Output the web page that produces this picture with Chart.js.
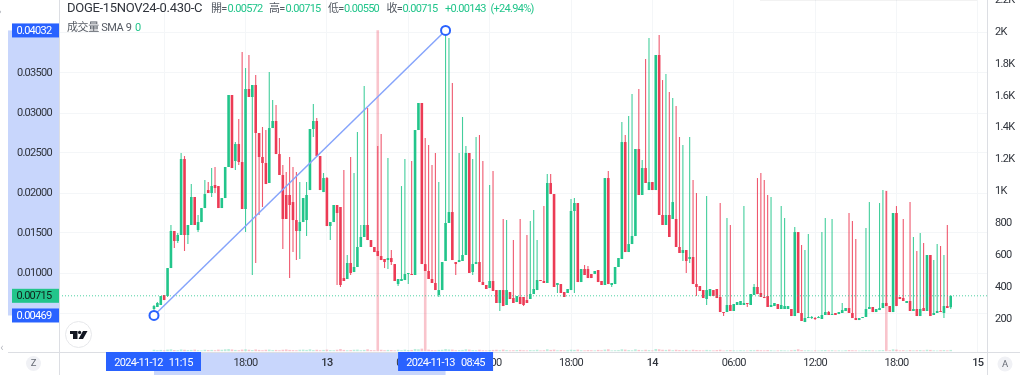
<!DOCTYPE html>
<html lang="en">
<head>
  <meta charset="UTF-8" />
  <title>DOGE-15NOV24-0.430-C</title>
  <script src="https://cdn.jsdelivr.net/npm/chart.js"></script>
  <style>
    body { margin: 0; background: #fff; overflow: hidden; }
    canvas { display: block; }
  </style>
</head>
<body>
  <canvas id="candleChart" width="1024" height="382"></canvas>

  <script>
    // 15 minute candles, first one is 2024-11-12 11:15
    const opens = [
      0.00550,0.00575,0.00600,0.00725,0.00712,0.01062,0.01525,0.01400,0.01475,0.02425,
      0.01475,0.01600,0.01950,0.01537,0.01637,0.01812,0.02037,0.02000,0.02100,0.02087,
      0.01812,0.01937,0.02325,0.03225,0.02400,0.02612,0.02387,0.01800,0.03300,0.03200,
      0.03350,0.02750,0.02450,0.02375,0.02125,0.02812,0.02900,0.02487,0.02225,0.01975,
      0.01975,0.01887,0.01662,0.01525,0.01637,0.01662,0.02037,0.02800,0.02900,0.02462,
      0.02012,0.02187,0.01587,0.01637,0.01850,0.01825,0.00937,0.00925,0.01125,0.01012,
      0.01075,0.01325,0.01450,0.01600,0.01412,0.01325,0.01275,0.01212,0.01175,0.01162,
      0.01187,0.01112,0.00862,0.00900,0.00912,0.00987,0.00987,0.00975,0.02787,0.03125,
      0.01112,0.01025,0.00925,0.00875,0.00725,0.00787,0.01150,0.01625,0.01762,0.01137,
      0.01137,0.01150,0.01225,0.02500,0.01012,0.01112,0.01137,0.00887,0.00850,0.00812,
      0.00900,0.00787,0.00625,0.00787,0.00600,0.00762,0.00687,0.00637,0.00700,0.00700,
      0.00662,0.00675,0.00737,0.00787,0.00912,0.00900,0.00875,0.02125,0.01987,0.00850,
      0.00862,0.00762,0.00750,0.00787,0.01775,0.01875,0.00887,0.01050,0.01050,0.00987,
      0.00987,0.01037,0.00900,0.00850,0.02187,0.00850,0.00862,0.01075,0.01175,0.02637,
      0.01262,0.01362,0.01462,0.02550,0.01975,0.02312,0.02037,0.02137,0.02037,0.03725,
      0.01725,0.01600,0.01725,0.01675,0.01675,0.01325,0.01250,0.01287,0.01175,0.01200,
      0.00862,0.00837,0.00787,0.00675,0.00712,0.00787,0.00800,0.00700,0.00512,0.00512,
      0.00600,0.00525,0.00600,0.00600,0.00600,0.00625,0.00600,0.00725,0.00825,0.00750,
      0.00700,0.00712,0.00575,0.00587,0.00612,0.00550,0.00550,0.00550,0.00550,0.00462,
      0.01512,0.00500,0.00387,0.00437,0.00437,0.00437,0.00437,0.00425,0.00475,0.00512,
      0.00475,0.00500,0.00487,0.00500,0.00525,0.00562,0.00500,0.00437,0.00412,0.00437,
      0.00450,0.00550,0.00575,0.00512,0.00537,0.00562,0.00625,0.00587,0.00512,0.01750,
      0.00700,0.00687,0.00625,0.00650,0.00525,0.00550,0.00462,0.00562,0.00525,0.01225,
      0.00475,0.00500,0.00525,0.00500,0.00587,0.00572
    ];
    const highs = [
      0.00600,0.00637,0.00712,0.00725,0.01062,0.01600,0.01525,0.01500,0.02500,0.02462,
      0.01600,0.02112,0.01950,0.01725,0.01812,0.02162,0.02137,0.02312,0.02325,0.02087,
      0.01937,0.02325,0.03225,0.03225,0.02637,0.02925,0.03762,0.03562,0.03725,0.03350,
      0.03475,0.02750,0.02825,0.02787,0.03512,0.03162,0.03100,0.02687,0.02350,0.02262,
      0.02450,0.02325,0.02262,0.02137,0.01937,0.02137,0.02800,0.03112,0.02937,0.02462,
      0.02250,0.02200,0.01637,0.01850,0.01850,0.01825,0.02287,0.01225,0.02450,0.02250,
      0.02762,0.01600,0.03337,0.03062,0.01412,0.01325,0.02587,0.02737,0.01175,0.02437,
      0.01287,0.01112,0.00925,0.02087,0.02425,0.01000,0.02400,0.02787,0.03125,0.03125,
      0.02687,0.02600,0.02350,0.02500,0.02137,0.01137,0.04032,0.03937,0.03375,0.01137,
      0.02500,0.02950,0.02587,0.02500,0.02425,0.02700,0.02725,0.02400,0.00850,0.02100,
      0.02275,0.00787,0.00787,0.01675,0.01662,0.00762,0.01412,0.00712,0.01675,0.00700,
      0.01475,0.01650,0.01787,0.01412,0.00912,0.01837,0.02237,0.02237,0.01987,0.00875,
      0.00862,0.00762,0.00800,0.01925,0.01937,0.01875,0.01050,0.01100,0.01087,0.00987,
      0.01025,0.01037,0.00900,0.02187,0.02275,0.00875,0.01075,0.01187,0.02887,0.02725,
      0.02962,0.03237,0.02550,0.03300,0.02412,0.03675,0.03937,0.02137,0.03725,0.03975,
      0.03412,0.03487,0.03262,0.03187,0.03087,0.02700,0.02600,0.01287,0.02700,0.02162,
      0.02000,0.00837,0.00787,0.01962,0.00800,0.00787,0.00800,0.01875,0.00512,0.01687,
      0.01600,0.00612,0.00637,0.00650,0.01837,0.00625,0.00737,0.00862,0.02187,0.02250,
      0.02162,0.01975,0.01950,0.00625,0.00612,0.01837,0.01687,0.00587,0.00550,0.01575,
      0.01512,0.01350,0.01287,0.01487,0.00462,0.00450,0.00462,0.01512,0.01687,0.00525,
      0.01675,0.00500,0.00512,0.00625,0.00562,0.01750,0.01650,0.01425,0.00437,0.00450,
      0.01562,0.01887,0.00575,0.00550,0.01875,0.02037,0.02025,0.00587,0.01750,0.01837,
      0.00700,0.01675,0.00650,0.01887,0.01450,0.01275,0.01500,0.01375,0.01225,0.01225,
      0.01162,0.01362,0.01337,0.01225,0.01600,0.00715
    ];
    const lows = [
      0.00537,0.00575,0.00600,0.00662,0.00700,0.01062,0.01312,0.01375,0.01475,0.01275,
      0.01362,0.01600,0.01600,0.01512,0.01637,0.01812,0.02000,0.01950,0.02000,0.01812,
      0.01812,0.01937,0.02325,0.02312,0.02287,0.02350,0.01800,0.01512,0.03200,0.00975,
      0.01125,0.01725,0.01825,0.02112,0.02125,0.02812,0.02487,0.02225,0.01300,0.01675,
      0.00937,0.01262,0.01162,0.01175,0.01637,0.01462,0.02037,0.02700,0.02462,0.02037,
      0.02012,0.01587,0.01412,0.01637,0.00850,0.00825,0.00900,0.00925,0.00975,0.01012,
      0.01075,0.01325,0.01450,0.01412,0.01325,0.01262,0.01212,0.01162,0.01062,0.01050,
      0.01100,0.00900,0.00837,0.00900,0.00912,0.00862,0.00975,0.00975,0.02787,0.01112,
      0.01025,0.00925,0.00875,0.00787,0.00700,0.00787,0.01150,0.01625,0.01162,0.00975,
      0.01137,0.01150,0.01225,0.01000,0.00975,0.01112,0.00887,0.00850,0.00800,0.00812,
      0.00775,0.00625,0.00525,0.00587,0.00600,0.00675,0.00625,0.00637,0.00612,0.00587,
      0.00625,0.00675,0.00737,0.00787,0.00900,0.00875,0.00875,0.01987,0.00825,0.00750,
      0.00750,0.00700,0.00750,0.00787,0.00750,0.00887,0.00887,0.00975,0.00937,0.00937,
      0.00987,0.00887,0.00850,0.00850,0.00862,0.00825,0.00862,0.01075,0.01175,0.01262,
      0.01262,0.01362,0.01462,0.01975,0.01975,0.02125,0.02037,0.02037,0.02037,0.01725,
      0.01600,0.01600,0.01450,0.01675,0.01325,0.01250,0.01150,0.01000,0.01125,0.00862,
      0.00712,0.00775,0.00687,0.00600,0.00712,0.00712,0.00687,0.00512,0.00462,0.00512,
      0.00525,0.00525,0.00600,0.00600,0.00600,0.00575,0.00600,0.00725,0.00737,0.00700,
      0.00687,0.00575,0.00575,0.00587,0.00550,0.00550,0.00550,0.00550,0.00462,0.00462,
      0.00500,0.00400,0.00387,0.00437,0.00425,0.00412,0.00437,0.00425,0.00475,0.00475,
      0.00475,0.00475,0.00487,0.00500,0.00525,0.00500,0.00437,0.00412,0.00412,0.00437,
      0.00450,0.00550,0.00512,0.00512,0.00537,0.00562,0.00587,0.00512,0.00512,0.00587,
      0.00675,0.00650,0.00625,0.00525,0.00525,0.00462,0.00462,0.00525,0.00525,0.00462,
      0.00475,0.00500,0.00512,0.00437,0.00562,0.00550
    ];
    const closes = [
      0.00587,0.00625,0.00712,0.00662,0.01062,0.01525,0.01400,0.01475,0.02425,0.01475,
      0.01600,0.01950,0.01600,0.01637,0.01812,0.01987,0.02000,0.02087,0.02062,0.01812,
      0.01937,0.02325,0.03225,0.02312,0.02612,0.02387,0.01800,0.03300,0.03200,0.03350,
      0.02750,0.02450,0.02375,0.02112,0.02812,0.02900,0.02487,0.02225,0.01675,0.01675,
      0.01850,0.01662,0.01525,0.01637,0.01937,0.01975,0.02800,0.02900,0.02462,0.02037,
      0.02187,0.01587,0.01637,0.01850,0.01750,0.00850,0.00900,0.01125,0.01000,0.01075,
      0.01325,0.01450,0.01600,0.01412,0.01325,0.01262,0.01212,0.01162,0.01137,0.01187,
      0.01137,0.00900,0.00925,0.00925,0.00987,0.01000,0.00975,0.02787,0.03125,0.01112,
      0.01025,0.00925,0.00875,0.00787,0.00787,0.01137,0.01625,0.01762,0.01162,0.01112,
      0.01162,0.01225,0.02500,0.01000,0.01112,0.01137,0.00887,0.00850,0.00800,0.00900,
      0.00775,0.00625,0.00787,0.00587,0.00787,0.00675,0.00625,0.00712,0.00612,0.00600,
      0.00625,0.00737,0.00800,0.00912,0.00900,0.00875,0.02125,0.01987,0.00825,0.00875,
      0.00750,0.00700,0.00800,0.01775,0.01875,0.00887,0.01050,0.00975,0.00937,0.00937,
      0.01025,0.00887,0.00850,0.02187,0.00862,0.00875,0.01075,0.01187,0.02637,0.01262,
      0.01362,0.01462,0.02550,0.01975,0.02312,0.02125,0.02137,0.02037,0.03725,0.01725,
      0.01600,0.01725,0.01450,0.01887,0.01325,0.01250,0.01287,0.01150,0.01200,0.00862,
      0.00825,0.00775,0.00687,0.00787,0.00800,0.00712,0.00687,0.00512,0.00500,0.00600,
      0.00525,0.00612,0.00637,0.00650,0.00625,0.00612,0.00737,0.00825,0.00737,0.00700,
      0.00687,0.00575,0.00600,0.00625,0.00550,0.00600,0.00587,0.00587,0.00462,0.01512,
      0.00500,0.00400,0.00437,0.00450,0.00450,0.00425,0.00450,0.00475,0.00512,0.00475,
      0.00487,0.00475,0.00512,0.00537,0.00562,0.00500,0.00437,0.00412,0.00437,0.00450,
      0.00550,0.00575,0.00512,0.00550,0.00562,0.00625,0.00587,0.00512,0.01750,0.00587,
      0.00675,0.00650,0.00650,0.00525,0.00550,0.00462,0.00550,0.00525,0.01225,0.00462,
      0.00500,0.00525,0.00512,0.00587,0.00562,0.00715
    ];
    const volumes = [
      9,6,8,5,10,12,7,6,11,9,7,8,10,6,5,9,7,8,6,10,
      9,12,14,11,8,6,10,12,9,7,11,8,6,9,10,7,8,6,9,11,
      8,7,6,9,10,8,12,7,9,6,8,10,7,6,9,14,8,6,7,9,
      10,6,8,12,7,6,2010,9,6,8,7,5,9,6,10,7,8,14,12,16,
      540,10,7,6,8,9,14,11,10,6,7,8,12,10,7,6,9,6,5,7,
      8,9,6,10,7,5,6,7,8,6,5,7,6,9,5,6,12,8,10,6,
      7,5,6,9,8,10,6,5,7,6,5,8,6,10,12,5,6,7,12,10,
      7,6,12,8,6,9,7,5,14,12,9,8,10,6,9,7,6,8,5,9,
      7,6,5,8,6,5,7,9,4,6,7,5,4,6,5,4,7,6,8,6,
      5,7,6,4,5,6,5,4,6,8,12,7,5,6,4,5,4,6,7,5,
      6,4,5,4,6,7,6,5,4,5,7,6,5,4,6,7,1005,6,12,10,
      5,6,4,7,5,6,7,5,9,8,5,4,6,7,5,8
    ];
    const priceTicks = [0.005, 0.01, 0.015, 0.02, 0.025, 0.03, 0.035, 0.04];
    const volumeTicks = [200, 400, 600, 800, 1000, 1200, 1400, 1600, 1800, 2000, 2200];
    const timeTickBars = [3, 27, 51, 75, 99, 123, 147, 171, 195, 219, 243];
    const timeTickLabels = ["12:00", "18:00", "13", "06:00", "12:00", "18:00", "14", "06:00", "12:00", "18:00", "15"];
    const trendBars = [0, 86];
    const trendPrices = [0.00469, 0.04032];
    const trendDates = ["2024-11-12   11:15", "2024-11-13   08:45"];
    const lastPrice = 0.00715;

    const GREEN = "#22c58b";
    const RED = "#ec3b55";
    const WICK_GREEN = "rgba(34,197,139,0.85)";
    const WICK_RED = "rgba(236,59,85,0.85)";
    const BLUE = "#2962ff";
    const BAND = "#c8d6fc";
    const AXIS_LINE = "#dcdee3";
    const GRID = "#f4f6f8";
    const TEXT = "#30343c";
    const FONT = 'Roboto, "Noto Sans CJK TC", sans-serif';

    const isUp = i => closes[i] >= opens[i];
    const bars = opens.map((_, i) => i);

    // everything TradingView puts around the plot, real text drawn on top of the chart
    const chrome = {
      id: "chrome",
      beforeDraw(chart) {
        const { ctx } = chart;
        const y = chart.scales.y, x = chart.scales.x;
        ctx.save();
        ctx.fillStyle = BAND;
        ctx.fillRect(8, y.getPixelForValue(trendPrices[1]), 51, y.getPixelForValue(trendPrices[0]) - y.getPixelForValue(trendPrices[1]));
        ctx.fillRect(x.getPixelForValue(trendBars[0]), 352, x.getPixelForValue(trendBars[1]) - x.getPixelForValue(trendBars[0]), 23);
        ctx.restore();
        // the reference text is squeezed, stays set for the tick labels too
        ctx.letterSpacing = "-0.7px";
      },
      afterDraw(chart) {
        const { ctx } = chart;
        const y = chart.scales.y, x = chart.scales.x;
        ctx.save();

        // frame lines
        ctx.fillStyle = AXIS_LINE;
        ctx.fillRect(59, 0, 1, 375);
        ctx.fillRect(987, 0, 1, 375);
        ctx.fillRect(8, 352, 1012, 1);
        ctx.fillStyle = "rgba(0,0,0,0.05)";
        ctx.fillRect(760, 0, 217, 1);

        // price labels on the left axis
        const priceBox = (value, color, textColor) => {
          const py = y.getPixelForValue(value);
          ctx.fillStyle = color;
          ctx.fillRect(12, py - 7, 47, 14);
          ctx.fillStyle = textColor;
          ctx.font = "11px " + FONT;
          ctx.textAlign = "center";
          ctx.textBaseline = "middle";
          ctx.fillText(value.toFixed(5), 34, py + 0.5);
        };
        priceBox(trendPrices[1], BLUE, "#fff");
        priceBox(lastPrice, GREEN, "#10241c");
        priceBox(trendPrices[0], BLUE, "#fff");

        // time labels of the drawing
        trendBars.forEach((bar, i) => {
          const px = x.getPixelForValue(bar);
          const left = i === 0 ? px - 48 : px - 47.5;
          ctx.fillStyle = BLUE;
          ctx.fillRect(left, 352, 95, 19);
          ctx.fillStyle = "#fff";
          ctx.font = "11px " + FONT;
          ctx.textAlign = "center";
          ctx.textBaseline = "middle";
          ctx.fillText(trendDates[i], left + 47.5, 363.5);
        });

        // legend
        ctx.textAlign = "left";
        ctx.textBaseline = "middle";
        const put = (text, px, py, color, size, spacing) => {
          ctx.fillStyle = color;
          ctx.font = size + "px " + FONT;
          ctx.letterSpacing = (spacing || 0) + "px";
          ctx.fillText(text, px, py);
        };
        put("DOGE-15NOV24-0.430-C", 67, 9, TEXT, 13, -0.3);
        put("開=", 211, 9.5, "#555a63", 11, -0.7);
        put("0.00572", 227.5, 9.5, GREEN, 11, -0.7);
        put("高=", 269, 9.5, "#555a63", 11, -0.7);
        put("0.00715", 285.5, 9.5, GREEN, 11, -0.7);
        put("低=", 328, 9.5, "#555a63", 11, -0.7);
        put("0.00550", 344, 9.5, GREEN, 11, -0.7);
        put("收=", 386.5, 9.5, "#555a63", 11, -0.7);
        put("0.00715", 402.5, 9.5, GREEN, 11, -0.7);
        put("+0.00143", 445, 9.5, GREEN, 11, -0.7);
        put("(+24.94%)", 490.5, 9.5, GREEN, 11, -0.7);
        put("成交量 SMA 9", 67, 28, "#555a63", 11, -0.4);
        put("0", 135, 28, GREEN, 11, 0);

        // logo
        ctx.beginPath();
        ctx.arc(78.5, 334.5, 13, 0, Math.PI * 2);
        ctx.fillStyle = "#fff";
        ctx.fill();
        ctx.strokeStyle = "#e6e7ea";
        ctx.lineWidth = 1;
        ctx.stroke();
        ctx.fillStyle = "#131722";
        ctx.fillRect(70, 331, 7.5, 3);
        ctx.fillRect(73, 334, 4.5, 5);
        ctx.beginPath();
        ctx.arc(79.6, 332.4, 1.6, 0, Math.PI * 2);
        ctx.fill();
        ctx.beginPath();
        ctx.moveTo(83, 331);
        ctx.lineTo(87.5, 331);
        ctx.lineTo(83, 339);
        ctx.lineTo(78.5, 339);
        ctx.closePath();
        ctx.fill();

        // little round buttons
        const roundBtn = (cx, cy, label) => {
          ctx.beginPath();
          ctx.arc(cx, cy, 7.5, 0, Math.PI * 2);
          ctx.fillStyle = "#f0f1f5";
          ctx.fill();
          ctx.fillStyle = "#666b75";
          ctx.font = "9.5px " + FONT;
          ctx.textAlign = "center";
          ctx.fillText(label, cx, cy + 0.5);
        };
        roundBtn(33.5, 363.5, "Z");
        roundBtn(1005, 364, "A");

        put("‹", 2, 348, "#b5b8bf", 11);
        put("›", 0, 12, "#b5b8bf", 11);
        ctx.restore();
      }
    };

    new Chart(document.getElementById("candleChart").getContext("2d"), {
      type: "bar",
      plugins: [chrome],
      data: {
        datasets: [
          {
            label: "Volume",
            yAxisID: "y2",
            order: 5,
            grouped: false,
            barThickness: 2.6,
            inflateAmount: 0,
            data: bars.map(i => ({ x: i, y: volumes[i] })),
            backgroundColor: bars.map(i => isUp(i) ? "rgba(34,197,139,0.3)" : "rgba(236,59,85,0.3)"),
          },
          {
            label: "Wicks",
            order: 4,
            grouped: false,
            barThickness: 1.1,
            inflateAmount: 0,
            data: bars.map(i => ({ x: i, y: [lows[i], highs[i]] })),
            backgroundColor: bars.map(i => isUp(i) ? WICK_GREEN : WICK_RED),
          },
          {
            label: "Bodies",
            order: 3,
            grouped: false,
            barThickness: 2.6,
            minBarLength: 1,
            inflateAmount: 0,
            data: bars.map(i => ({ x: i, y: [opens[i], closes[i]] })),
            backgroundColor: bars.map(i => isUp(i) ? GREEN : RED),
          },
          {
            type: "line",
            label: "Last",
            order: 2,
            data: [{ x: -28.02, y: lastPrice }, { x: 245.7, y: lastPrice }],
            borderColor: "rgba(34,197,139,0.8)",
            borderWidth: 1,
            borderDash: [1, 2],
            pointRadius: 0,
          },
          {
            type: "line",
            label: "Trend",
            order: 1,
            data: trendBars.map((b, i) => ({ x: b, y: trendPrices[i] })),
            borderColor: "#86a4fb",
            borderWidth: 1.5,
            pointRadius: 4.5,
            pointBorderWidth: 2,
            pointBorderColor: BLUE,
            pointBackgroundColor: "#fff",
          },
        ],
      },
      options: {
        responsive: false,
        animation: false,
        layout: { padding: 0, autoPadding: false },
        plugins: { legend: { display: false }, tooltip: { enabled: false } },
        scales: {
          x: {
            type: "linear",
            min: -28.02,
            max: 245.7,
            offset: false,
            border: { display: false },
            grid: { color: GRID, offset: false, drawTicks: false },
            afterBuildTicks: s => { s.ticks = timeTickBars.map(v => ({ value: v })); },
            afterFit: s => { s.height = 30; s.paddingLeft = 0; s.paddingRight = 0; },
            ticks: {
              autoSkip: false,
              maxRotation: 0,
              padding: 5,
              color: TEXT,
              font: ctx => ({ family: FONT, size: 11, weight: /:/.test(timeTickLabels[ctx.index] || ":") ? "normal" : "500" }),
              callback: (v, i) => timeTickLabels[i],
            },
          },
          y: {
            position: "left",
            min: 0.000125,
            max: 0.044125,
            border: { display: false },
            grid: { color: GRID, drawTicks: false },
            afterBuildTicks: s => { s.ticks = priceTicks.map(v => ({ value: v })); },
            afterFit: s => { s.width = 59; s.paddingTop = 0; s.paddingBottom = 0; },
            ticks: {
              autoSkip: false,
              padding: 7,
              color: TEXT,
              font: { family: FONT, size: 11 },
              callback: v => (v === 0.005 || v === 0.04) ? "" : v.toFixed(5),
            },
          },
          y2: {
            position: "right",
            min: -5,
            max: 2200,
            border: { display: false },
            grid: { display: false, drawTicks: false },
            afterBuildTicks: s => { s.ticks = volumeTicks.map(v => ({ value: v })); },
            afterFit: s => { s.width = 37; s.paddingTop = 0; s.paddingBottom = 0; },
            ticks: {
              autoSkip: false,
              padding: 8,
              color: TEXT,
              font: { family: FONT, size: 11 },
              callback: v => v >= 1000 ? (v / 1000) + "K" : v,
            },
          },
        },
      },
    });
  </script>
</body>
</html>
